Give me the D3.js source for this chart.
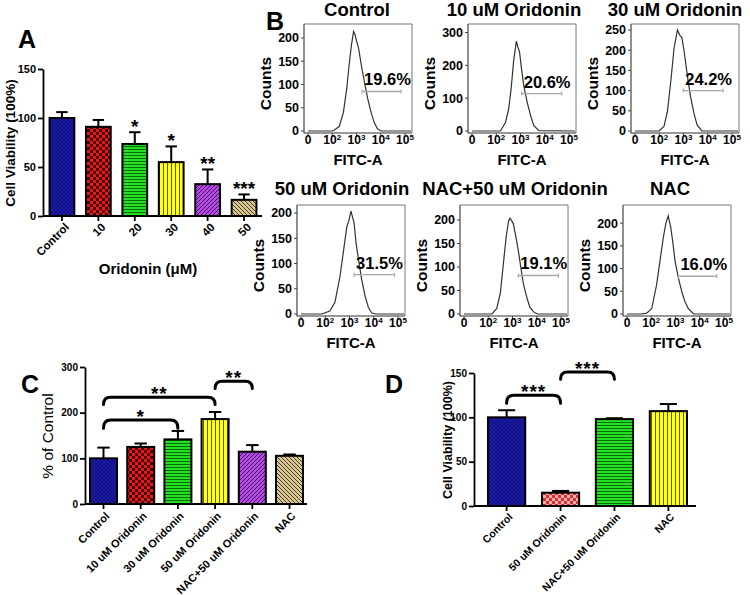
<!DOCTYPE html>
<html><head><meta charset="utf-8">
<script src="https://cdn.jsdelivr.net/npm/d3@7"></script>
<style>
html,body{margin:0;padding:0;background:#fff;}
svg{display:block;font-family:"Liberation Sans",Arial,sans-serif;}
</style></head>
<body>
<svg id="fig" width="750" height="595"></svg>
<script>
// ---------------- DATA ----------------
const aCategories = ["Control","10","20","30","40","50"];
const aMeans = [100, 91, 73.5, 55, 32.5, 16.5];
const aErrors = [6, 7, 12, 16, 15, 5.5];
const aStars = ["", "", "*", "*", "**", "***"];
const aTicks = [0, 50, 100, 150];

const cCategories = ["Control","10 uM Oridonin","30 uM Oridonin","50 uM Oridonin","NAC+50 uM Oridonin","NAC"];
const cMeans = [100, 125, 141.5, 186, 114.5, 105.5];
const cErrors = [23.5, 7.5, 18.5, 15.5, 14.5, 3];
const cTicks = [0, 100, 200, 300];
const cBrackets = [[0, 2, "*", 184, 166], [0, 3, "**", 234, 218], [3, 4, "**", 269, 253]];

const dCategories = ["Control","50 uM Oridonin","NAC+50 uM Oridonin","NAC"];
const dMeans = [100, 15, 98, 107];
const dErrors = [8, 2, 1, 8];
const dTicks = [0, 50, 100, 150];
const dBrackets = [[0, 1, "***", 125, 116], [1, 2, "***", 151, 143]];

const histTitles = ["Control","10 uM Oridonin","30 uM Oridonin","50 uM Oridonin","NAC+50 uM Oridonin","NAC"];
const histPercents = ["19.6%","20.6%","24.2%","31.5%","19.1%","16.0%"];
const histYMax = [230, 326, 265, 216, 232, 240];
const histYTicks = [[0,50,100,150,200],[0,100,200,300],[0,50,100,150,200,250],[0,50,100,150,200],[0,50,100,150,200],[0,50,100,150,200]];
const histXTickLabels = ["0","10^2","10^3","10^4","10^5"];
const histGates = [[2.23,3.84,85],[2.05,3.70,114],[1.99,3.63,100],[2.19,3.85,78],[2.24,3.89,82],[2.12,3.70,83]];
const histCurve1 = [[0,0],[1.0,0],[1.08,1.5],[1.29,10],[1.46,40],[1.60,92],[1.70,144],[1.80,188],[1.88,214],[1.94,207],[2.01,192],[2.09,177],[2.19,144],[2.32,107],[2.46,70],[2.60,40],[2.73,18],[2.87,4],[3.01,0],[4.25,0]];
const histCurve2 = [[0,0],[1.17,0],[1.38,26],[1.51,66],[1.61,126],[1.72,216],[1.83,274],[1.89,256],[1.96,241],[2.04,191],[2.14,136],[2.28,86],[2.42,46],[2.55,16],[2.76,1],[4.25,0]];
const histCurve3 = [[0,0],[0.99,0],[1.2,12],[1.34,50],[1.48,125],[1.61,205],[1.75,250],[1.85,237],[1.93,232],[2.02,200],[2.15,141],[2.29,85],[2.43,44],[2.56,15],[2.76,0],[4.25,0]];
const histCurve4 = [[0,0],[0.85,0],[1.19,6],[1.40,23],[1.61,75],[1.75,124],[1.89,173],[1.98,186],[2.06,204],[2.12,193],[2.19,180],[2.27,141],[2.37,108],[2.5,69],[2.64,36],[2.78,13],[2.92,2],[3.1,0],[4.25,0]];
const histCurve5 = [[0,0],[1.15,0],[1.35,12],[1.5,45],[1.62,105],[1.74,165],[1.84,198],[1.9,204],[2.03,193],[2.14,164],[2.24,135],[2.34,100],[2.45,64],[2.59,35],[2.72,14],[2.9,3],[3.05,0],[4.25,0]];
const histCurve6 = [[0,0],[0.6,0],[0.81,2],[1.02,12],[1.22,64],[1.36,117],[1.5,169],[1.6,199],[1.7,216],[1.8,192],[1.88,162],[1.98,117],[2.12,79],[2.26,49],[2.39,27],[2.53,12],[2.75,0],[4.25,0]];
const histCurves = [histCurve1, histCurve2, histCurve3, histCurve4, histCurve5, histCurve6];

// ---------------- DRAW ----------------
const svg = d3.select("#fig");
svg.append("rect").attr("width",750).attr("height",595).attr("fill","#fff");
const FONT = '"Liberation Sans", Arial, sans-serif';

// patterns
const defs = svg.append("defs");
function pat(id, w, h, base, build) {
  const p = defs.append("pattern").attr("id", id).attr("width", w).attr("height", h).attr("patternUnits","userSpaceOnUse");
  p.append("rect").attr("width", w).attr("height", h).attr("fill", base);
  build(p);
}
pat("pBlue", 4, 4, "#1b1ba3", p => p.append("path").attr("d","M0,4L4,0M0,0L4,4").attr("stroke","#0c0c72").attr("stroke-width",0.6));
pat("pRed", 6, 6, "#e41a1a", p => { p.append("rect").attr("width",3).attr("height",3).attr("fill","#4a0000"); p.append("rect").attr("x",3).attr("y",3).attr("width",3).attr("height",3).attr("fill","#4a0000"); });
pat("pRedLight", 6, 6, "#d83030", p => { p.append("rect").attr("width",3).attr("height",3).attr("fill","#f3b0b0"); p.append("rect").attr("x",3).attr("y",3).attr("width",3).attr("height",3).attr("fill","#f3b0b0"); });
pat("pGreen", 4, 3, "#22e022", p => p.append("rect").attr("y",2).attr("width",4).attr("height",1).attr("fill","#0c6a0c"));
pat("pYellow", 4, 4, "#ffff1a", p => p.append("rect").attr("x",3).attr("width",1).attr("height",4).attr("fill","#5a5a00"));
pat("pPurple", 4, 4, "#b64ae6", p => p.append("path").attr("d","M-1,1L1,-1M0,4L4,0M3,5L5,3").attr("stroke","#4a0d66").attr("stroke-width",1));
pat("pTan", 4, 4, "#d8c898", p => p.append("path").attr("d","M-1,3L1,5M0,0L4,4M3,-1L5,1").attr("stroke","#4a3c18").attr("stroke-width",1));

function barChart(o) {
  const g = svg.append("g");
  const x = d3.scaleBand().domain(o.cats).range(o.xRange).paddingInner(o.pi).paddingOuter(o.po);
  const y = d3.scaleLinear().domain([0, o.yMax]).range(o.yRange);
  const bw = x.bandwidth();
  // bars
  g.selectAll("rect.bar").data(o.cats).join("rect").attr("class","bar")
    .attr("x", d => x(d)).attr("width", bw)
    .attr("y", (d,i) => y(o.means[i])).attr("height", (d,i) => y(0) - y(o.means[i]))
    .attr("fill", (d,i) => `url(#${o.patterns[i]})`).attr("stroke","#000").attr("stroke-width",2);
  // error bars
  const eg = g.selectAll("g.err").data(o.cats).join("g").attr("class","err");
  eg.append("line").attr("x1", d => x(d)+bw/2).attr("x2", d => x(d)+bw/2)
    .attr("y1", (d,i) => y(o.means[i])).attr("y2", (d,i) => y(o.means[i]+o.errs[i]))
    .attr("stroke","#000").attr("stroke-width",2);
  eg.append("line").attr("x1", d => x(d)+bw/2-bw*0.23).attr("x2", d => x(d)+bw/2+bw*0.23)
    .attr("y1", (d,i) => y(o.means[i]+o.errs[i])).attr("y2", (d,i) => y(o.means[i]+o.errs[i]))
    .attr("stroke","#000").attr("stroke-width",2);
  // y axis
  const ya = g.append("g").attr("transform",`translate(${o.xRange[0]},0)`)
    .call(d3.axisLeft(y).tickValues(o.ticks).tickSize(5).tickSizeOuter(0).tickPadding(2));
  ya.select(".domain").attr("stroke","#000").attr("stroke-width",1.8);
  ya.selectAll(".tick line").attr("stroke","#000").attr("stroke-width",1.8);
  ya.selectAll("text").attr("font-family",FONT).attr("font-weight","bold").attr("font-size",o.tickFont).attr("fill","#000");
  // x axis
  const xa = g.append("g").attr("transform",`translate(0,${y(0)})`)
    .call(d3.axisBottom(x).tickSize(5).tickSizeOuter(0));
  xa.select(".domain").attr("stroke","#000").attr("stroke-width",1.8).attr("d",`M${o.xRange[0]},0H${o.xEnd}`);
  xa.selectAll(".tick line").attr("stroke","#000").attr("stroke-width",1.8);
  xa.selectAll("text").attr("font-family",FONT).attr("font-weight","bold").attr("font-size",o.labelFont).attr("fill","#000")
    .attr("x",0).attr("y",0).attr("dy","0.35em").style("text-anchor","end")
    .attr("transform",`translate(${o.lx},${o.ly}) rotate(-45)`);
  // stars above error bars
  if (o.stars) {
    g.selectAll("text.star").data(o.cats).join("text").attr("class","star")
      .attr("x", d => x(d)+bw/2).attr("y", (d,i) => y(o.means[i]+o.errs[i]) + 1)
      .attr("text-anchor","middle").attr("font-family",FONT).attr("font-weight","bold").attr("font-size",19)
      .text((d,i) => o.stars[i]);
  }
  // brackets
  if (o.brackets) {
    o.brackets.forEach(b => {
      const x1 = x(o.cats[b[0]])+bw/2, x2 = x(o.cats[b[1]])+bw/2;
      const yt = y(b[3]), ye = y(b[4]), r = 7;
      g.append("path").attr("d",`M${x1},${ye}Q${x1},${yt} ${x1+r},${yt}L${x2-r},${yt}Q${x2},${yt} ${x2},${ye}`)
        .attr("fill","none").attr("stroke","#000").attr("stroke-width",3).attr("stroke-linecap","round");
      g.append("text").attr("x",(x1+x2)/2).attr("y",yt+3).attr("text-anchor","middle")
        .attr("font-family",FONT).attr("font-weight","bold").attr("font-size",19).attr("letter-spacing",1).text(b[2]);
    });
  }
  // titles
  g.append("text").attr("transform",`translate(${o.ytX},${o.ytY}) rotate(-90)`).attr("text-anchor","middle")
    .attr("font-family",FONT).attr("font-weight",o.ytWeight).attr("font-size",o.ytSize).text(o.yTitle);
  return {x, y};
}

// Panel A
barChart({cats:aCategories, means:aMeans, errs:aErrors, ticks:aTicks, yMax:150,
  xRange:[43,263], xEnd:262, yRange:[216,69], pi:0.32, po:0.18,
  patterns:["pBlue","pRed","pGreen","pYellow","pPurple","pTan"],
  tickFont:11, labelFont:11.5, lx:5, ly:9, stars:aStars,
  yTitle:"Cell Viability (100%)", ytX:15, ytY:143, ytSize:13.5, ytWeight:"bold"});
svg.append("text").attr("x",148).attr("y",274).attr("text-anchor","middle").attr("font-family",FONT)
  .attr("font-weight","bold").attr("font-size",15).text("Oridonin (\u03bcM)");

// Panel C
barChart({cats:cCategories, means:cMeans, errs:cErrors, ticks:cTicks, yMax:300,
  xRange:[85,308], xEnd:307, yRange:[504,367], pi:0.274, po:0.134,
  patterns:["pBlue","pRed","pGreen","pYellow","pPurple","pTan"],
  tickFont:10, labelFont:11, lx:4, ly:10, brackets:cBrackets,
  yTitle:"% of Control", ytX:53, ytY:436, ytSize:15.5, ytWeight:"normal"});

// Panel D
barChart({cats:dCategories, means:dMeans, errs:dErrors, ticks:dTicks, yMax:150,
  xRange:[474,701], xEnd:696, yRange:[506,373], pi:0.31, po:0.26,
  patterns:["pBlue","pRedLight","pGreen","pYellow"],
  tickFont:10, labelFont:10.5, lx:4, ly:9, brackets:dBrackets,
  yTitle:"Cell Viability (100%)", ytX:452, ytY:440, ytSize:12.5, ytWeight:"bold"});

// Panel letters
[["A",18,48],["B",266,30],["C",21,393],["D",385,393]].forEach(l =>
  svg.append("text").attr("x",l[1]).attr("y",l[2]).attr("font-family",FONT).attr("font-weight","bold").attr("font-size",25).text(l[0]));

// Histograms
const histLayout = [
  {left:304, top:24, bottom:133, zero:131, tx:357, ty:16},
  {left:468, top:24, bottom:133, zero:131, tx:514, ty:16},
  {left:631, top:24, bottom:133, zero:131, tx:675, ty:16},
  {left:297, top:205, bottom:316, zero:314, tx:342, ty:195},
  {left:460, top:205, bottom:316, zero:314, tx:515, ty:195},
  {left:623, top:205, bottom:316, zero:314, tx:670, ty:195}
];
histLayout.forEach((L, i) => {
  const g = svg.append("g");
  const W = 108;
  const x = d3.scaleLinear().domain([0,4]).range([L.left+4, L.left+101]);
  const y = d3.scaleLinear().domain([0, histYMax[i]]).range([L.zero, L.top]);
  // frame: left & bottom darker, top & right lighter
  g.append("path").attr("d",`M${L.left},${L.top}H${L.left+W}V${L.bottom}`).attr("fill","none").attr("stroke","#777").attr("stroke-width",1);
  g.append("path").attr("d",`M${L.left},${L.top}V${L.bottom}H${L.left+W}`).attr("fill","none").attr("stroke","#333").attr("stroke-width",1.1);
  g.append("path").datum(histCurves[i])
    .attr("d", d3.line().x(d => x(d[0])).y(d => y(d[1])))
    .attr("fill","none").attr("stroke","#333").attr("stroke-width",1.2);
  // y ticks
  histYTicks[i].forEach(v => {
    g.append("line").attr("x1",L.left-3).attr("x2",L.left).attr("y1",y(v)).attr("y2",y(v)).attr("stroke","#444");
    g.append("text").attr("x",L.left-5).attr("y",y(v)).attr("dy","0.35em").attr("text-anchor","end")
      .attr("font-family",FONT).attr("font-weight","bold").attr("font-size",12.5).text(v);
  });
  // x ticks
  histXTickLabels.forEach((lab, j) => {
    g.append("line").attr("x1",x(j)).attr("x2",x(j)).attr("y1",L.bottom).attr("y2",L.bottom+3).attr("stroke","#444");
    const parts = lab.split("^");
    const t = g.append("text").attr("x",x(j)).attr("y",L.bottom+11).attr("text-anchor","middle")
      .attr("font-family",FONT).attr("font-weight","bold").attr("font-size",12);
    t.append("tspan").text(parts[0]);
    if (parts[1]) t.append("tspan").attr("font-size",8).attr("dy",-4).text(parts[1]);
  });
  // gate
  const gt = histGates[i];
  g.append("line").attr("x1",x(gt[0])).attr("x2",x(gt[1])).attr("y1",y(gt[2])).attr("y2",y(gt[2]))
    .attr("stroke","#a8a8a8").attr("stroke-width",1.4);
  [gt[0], gt[1]].forEach(v => g.append("line").attr("x1",x(v)).attr("x2",x(v)).attr("y1",y(gt[2])-2).attr("y2",y(gt[2])+2)
    .attr("stroke","#a8a8a8").attr("stroke-width",1.2));
  g.append("text").attr("x",x(gt[0])+2).attr("y",y(gt[2])-6).attr("font-family",FONT).attr("font-weight","bold")
    .attr("font-size",16.5).text(histPercents[i]);
  // titles
  g.append("text").attr("x",L.tx).attr("y",L.ty).attr("text-anchor","middle").attr("font-family",FONT)
    .attr("font-weight","bold").attr("font-size",18.5).text(histTitles[i]);
  g.append("text").attr("transform",`translate(${L.left-33},${(L.top+L.bottom)/2+5}) rotate(-90)`).attr("text-anchor","middle")
    .attr("font-family",FONT).attr("font-weight","bold").attr("font-size",15.5).text("Counts");
  g.append("text").attr("x",L.left+W/2).attr("y",L.bottom+32).attr("text-anchor","middle").attr("font-family",FONT)
    .attr("font-weight","bold").attr("font-size",15).text("FITC-A");
});
</script>
</body></html>
